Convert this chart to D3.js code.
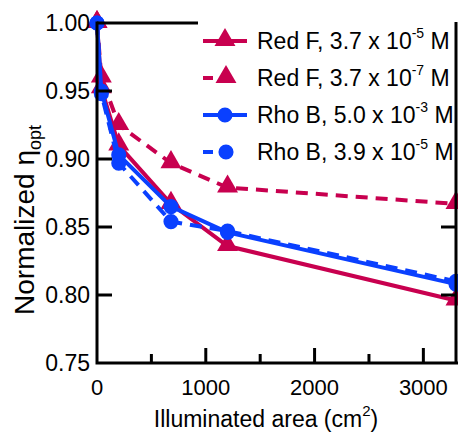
<!DOCTYPE html>
<html>
<head>
<meta charset="utf-8">
<script src="https://cdn.jsdelivr.net/npm/d3@7"></script>
<style>
  html, body { margin: 0; padding: 0; background: #fff; }
  svg { display: block; }
  text { font-family: "Liberation Sans", Arial, Helvetica, sans-serif; fill: #000; }
</style>
</head>
<body>
<svg id="chart" width="458" height="433"></svg>
<script>
// Illuminated area (cm^2)
const areas = [0, 40, 200, 680, 1200, 3300];

// Normalized optical efficiency for each dye / concentration
const redF37e5 = [1.000, 0.952, 0.910, 0.867, 0.836, 0.796];
const redF37e7 = [1.000, 0.960, 0.925, 0.897, 0.879, 0.867];
const rhoB50e3 = [1.000, 0.950, 0.903, 0.865, 0.846, 0.808];
const rhoB39e5 = [1.000, 0.948, 0.897, 0.854, 0.847, 0.810];

const seriesNames = [
  { base: "Red F, 3.7 x 10", exp: "-5" },
  { base: "Red F, 3.7 x 10", exp: "-7" },
  { base: "Rho B, 5.0 x 10", exp: "-3" },
  { base: "Rho B, 3.9 x 10", exp: "-5" }
];

const xTicksMajor = [0, 1000, 2000, 3000];
const xTicksMinor = [500, 1500, 2500];
const yTicks = [0.75, 0.80, 0.85, 0.90, 0.95, 1.00];

const RED = "#c8004f";
const BLUE = "#0a40ff";

const series = [
  { values: redF37e5, color: RED,  dashed: false, marker: "triangle", name: seriesNames[0] },
  { values: redF37e7, color: RED,  dashed: true,  marker: "triangle", name: seriesNames[1] },
  { values: rhoB39e5, color: BLUE, dashed: true,  marker: "circle",   name: seriesNames[3] },
  { values: rhoB50e3, color: BLUE, dashed: false, marker: "circle",   name: seriesNames[2] }
];
const legendOrder = [0, 1, 3, 2];

const svg = d3.select("#chart");
const L = 97, R = 456, T = 23, B = 363;

const x = d3.scaleLinear().domain([0, 3300]).range([L, R]);
const y = d3.scaleLinear().domain([0.75, 1.00]).range([B, T]);

const DASH = "12,8";
const triangle = d3.symbol().type(d3.symbolTriangle).size(190);
const circle = d3.symbol().type(d3.symbolCircle).size(180);

function drawMarker(g, kind, cx, cy, color) {
  g.append("path")
    .attr("d", kind === "triangle" ? triangle() : circle())
    .attr("transform", `translate(${cx},${cy - (kind === "triangle" ? 1 : 0)})`)
    .attr("fill", color);
}

// data lines and markers
const line = d3.line().x((d, i) => x(areas[i])).y(d => y(d));
const dataG = svg.append("g");
series.forEach(s => {
  dataG.append("path")
    .datum(s.values)
    .attr("d", line)
    .attr("fill", "none")
    .attr("stroke", s.color)
    .attr("stroke-width", 4)
    .attr("stroke-dasharray", s.dashed ? DASH : null);
  s.values.forEach((v, i) => drawMarker(dataG, s.marker, x(areas[i]), y(v), s.color));
});

// frame: left and bottom axes with inward ticks
const axG = svg.append("g").attr("stroke", "#000").attr("stroke-width", 3).attr("fill", "none");
axG.append("path").attr("d", `M${L},${T}V${B}H${R + 1.5}`).attr("stroke-linecap", "square");
axG.append("line").attr("x1", L).attr("x2", 198).attr("y1", T).attr("y2", T);

yTicks.filter(t => t > 0.75 && t < 1.0).forEach(t => {
  axG.append("line").attr("x1", L).attr("x2", L + 15).attr("y1", y(t)).attr("y2", y(t));
});
xTicksMajor.filter(t => t > 0).forEach(t => {
  axG.append("line").attr("x1", x(t)).attr("x2", x(t)).attr("y1", B).attr("y2", B - 15);
});
xTicksMinor.forEach(t => {
  axG.append("line").attr("x1", x(t)).attr("x2", x(t)).attr("y1", B).attr("y2", B - 9);
});

// legend
const lg = svg.append("g");
lg.append("rect").attr("x", 199).attr("y", 10).attr("width", 255).attr("height", 160).attr("fill", "#fff");
const rowY = [41, 78, 115, 152];
legendOrder.forEach((si, i) => {
  const s = series[si];
  const ry = rowY[i];
  if (s.dashed) {
    lg.append("line").attr("x1", 203).attr("x2", 233).attr("y1", ry).attr("y2", ry)
      .attr("stroke", s.color).attr("stroke-width", 4).attr("stroke-dasharray", "10,7");
    drawMarker(lg, s.marker, 226, ry, s.color);
  } else {
    lg.append("line").attr("x1", 203).attr("x2", 247).attr("y1", ry).attr("y2", ry)
      .attr("stroke", s.color).attr("stroke-width", 4);
    drawMarker(lg, s.marker, 225, ry, s.color);
  }
  const t = lg.append("text").attr("x", 257).attr("y", ry + 8).attr("font-size", 23);
  t.append("tspan").text(s.name.base);
  t.append("tspan").attr("dy", -11).attr("font-size", 14).text(s.name.exp);
  t.append("tspan").attr("dy", 11).text(" M");
});

// right axis, drawn over the legend panel
const rg = svg.append("g").attr("stroke", "#000").attr("stroke-width", 3);
rg.append("line").attr("x1", R).attr("x2", R).attr("y1", T - 1).attr("y2", B);
yTicks.filter(t => t > 0.75 && t < 0.88).forEach(t => {
  rg.append("line").attr("x1", R).attr("x2", R - 15).attr("y1", y(t)).attr("y2", y(t));
});

// tick labels
yTicks.forEach(t => {
  svg.append("text").attr("x", L - 7).attr("y", y(t) + 8)
    .attr("text-anchor", "end").attr("font-size", 23).text(d3.format(".2f")(t));
});
xTicksMajor.forEach(t => {
  svg.append("text").attr("x", x(t)).attr("y", 395)
    .attr("text-anchor", "middle").attr("font-size", 22).text(d3.format("d")(t));
});

// axis titles
const xt = svg.append("text").attr("x", 266).attr("y", 427).attr("text-anchor", "middle").attr("font-size", 23);
xt.append("tspan").text("Illuminated area (cm");
xt.append("tspan").attr("dy", -11).attr("font-size", 15).text("2");
xt.append("tspan").attr("dy", 11).text(")");

const yt = svg.append("text").attr("transform", "translate(34,220) rotate(-90)")
  .attr("text-anchor", "middle").attr("font-size", 28);
yt.append("tspan").text("Normalized η");
yt.append("tspan").attr("dy", 7).attr("font-size", 18).text("opt");
</script>
</body>
</html>
